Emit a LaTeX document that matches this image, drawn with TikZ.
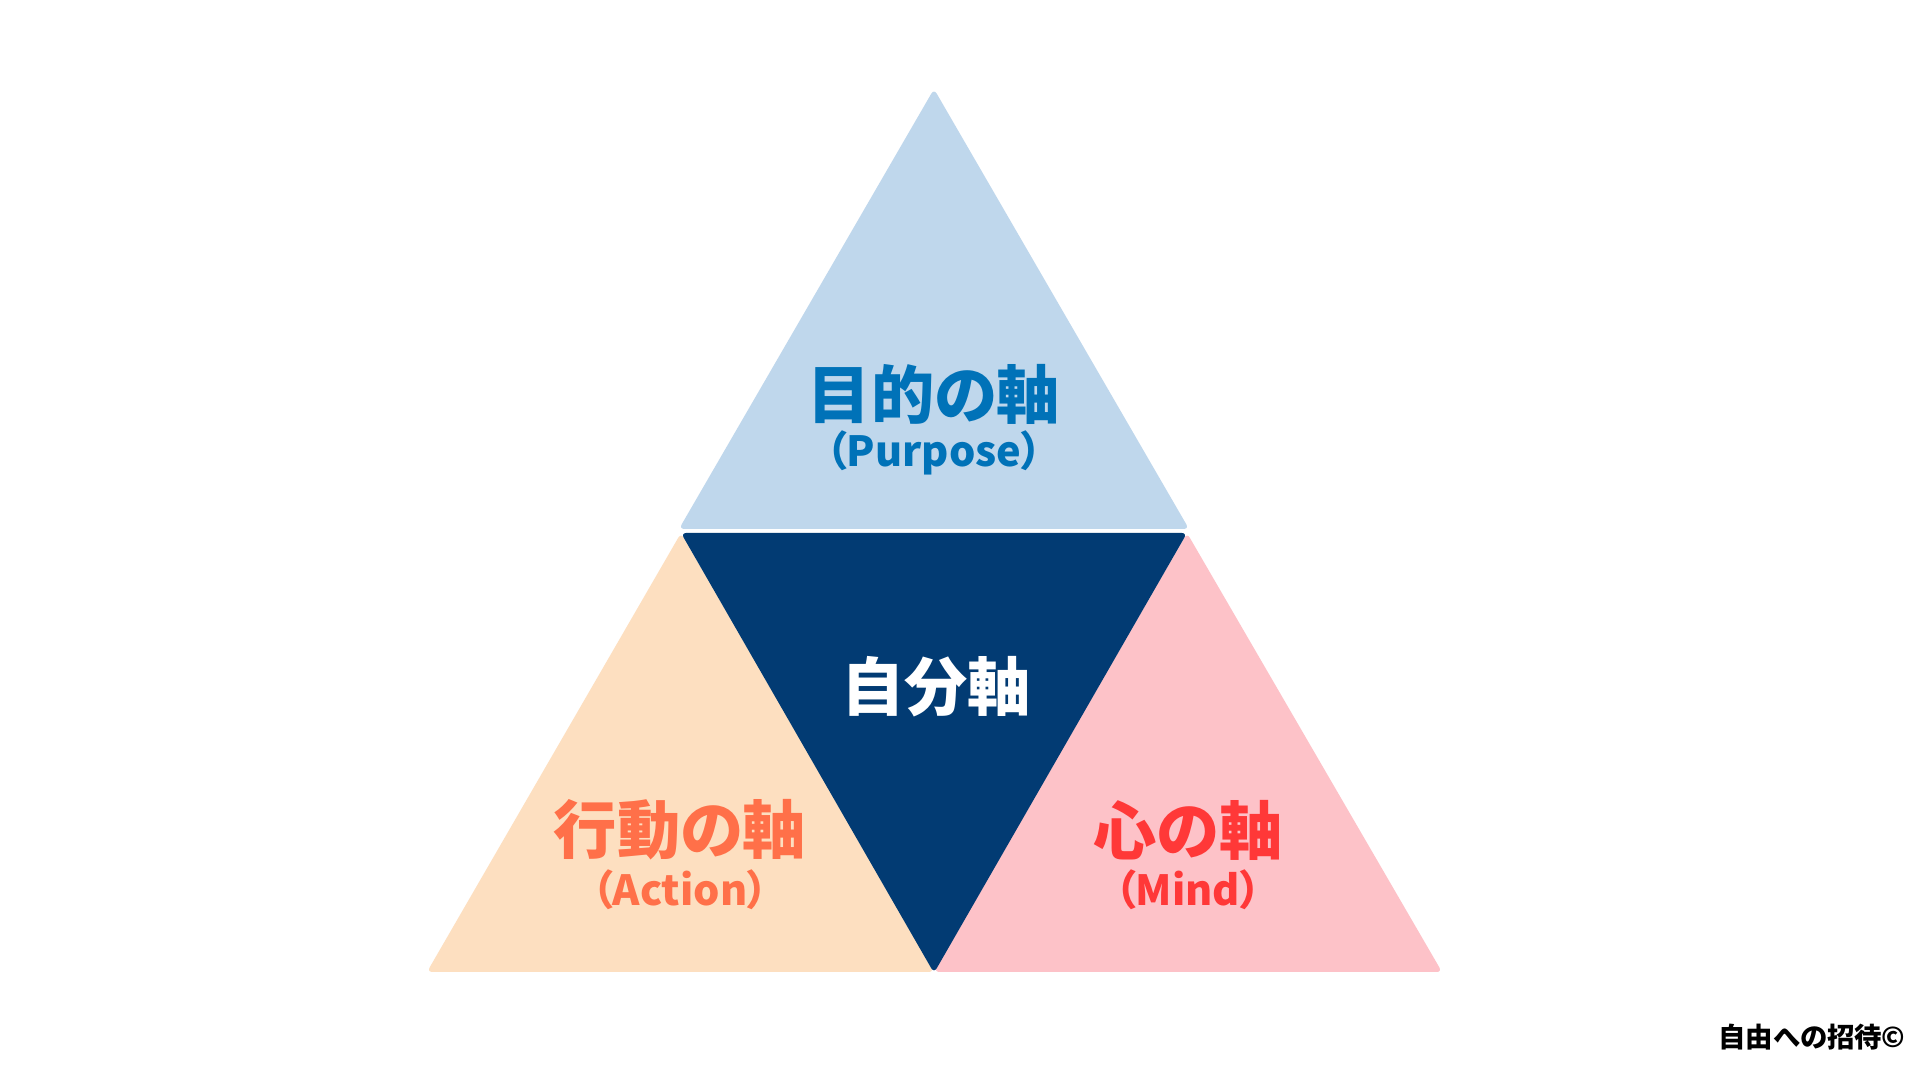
\documentclass[tikz,border=0pt]{standalone}
\usepackage{fontspec}
\setmainfont{Noto Sans CJK JP}[RawFeature=+palt]
\definecolor{purposeFill}{HTML}{BFD7EC}
\definecolor{purposeText}{HTML}{0072B8}
\definecolor{selfFill}{HTML}{023B73}
\definecolor{actionFill}{HTML}{FDDFC0}
\definecolor{actionText}{HTML}{FF7049}
\definecolor{mindFill}{HTML}{FDC2C8}
\definecolor{mindText}{HTML}{FF3838}
\tikzset{
  axis/.style={rounded corners=1.5pt},
  title/.style={font=\fontsize{18}{20}\selectfont\bfseries, inner sep=0pt},
  sub/.style={font=\fontsize{11.8}{14}\selectfont\bfseries, inner sep=0pt}
}
\begin{document}
\begin{tikzpicture}
    \useasboundingbox (0,0) rectangle (19.2,10.8);
    \fill[white] (0,0) rectangle (19.2,10.8);

    % Purpose (top)
    \fill[purposeFill, axis] (9.34,9.91) -- (11.89,5.51) -- (6.79,5.51) -- cycle;
    % Action (bottom left)
    \fill[actionFill, axis] (6.81,5.47) -- (9.34,1.08) -- (4.27,1.08) -- cycle;
    % Mind (bottom right)
    \fill[mindFill, axis] (11.87,5.47) -- (14.42,1.08) -- (9.34,1.08) -- cycle;
    % Self (centre, upside down)
    \fill[selfFill, axis] (6.81,5.47) -- (11.87,5.47) -- (9.34,1.07) -- cycle;

    \node[title, text=purposeText] (purpose) at (9.34,6.86) {目的の軸};
    \node[sub, text=purposeText] (purposeEn) at (9.34,6.27) {（Purpose）};
    \node[title, text=white] (self) at (9.36,3.93) {自分軸};
    \node[title, text=actionText] (action) at (6.80,2.50) {行動の軸};
    \node[sub, text=actionText] (actionEn) at (6.80,1.90) {（Action）};
    \node[title, text=mindText] (mind) at (11.88,2.50) {心の軸};
    \node[sub, text=mindText] (mindEn) at (11.88,1.90) {（Mind）};

    \node[font=\fontsize{7.8}{9}\selectfont\bfseries, inner sep=0pt] (credit) at (18.12,0.43) {自由への招待©};
\end{tikzpicture}
\end{document}
